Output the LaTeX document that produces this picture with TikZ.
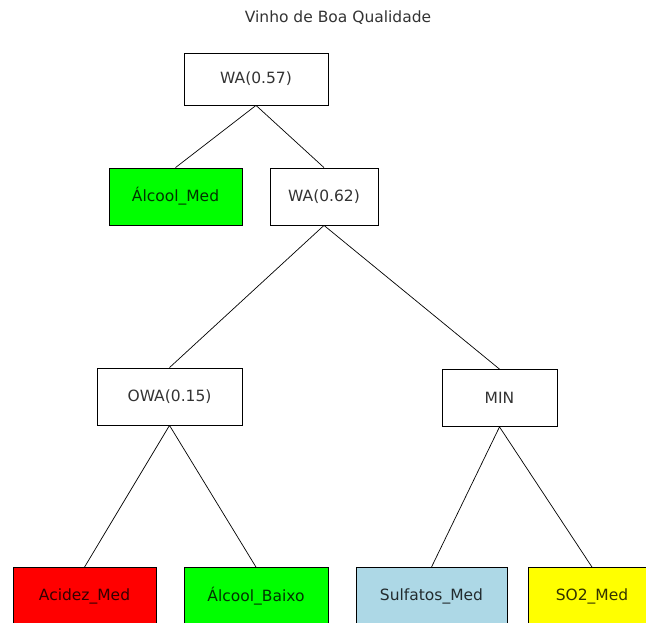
\documentclass[tikz,border=0pt]{standalone}
\usepackage{fontspec}
\setmainfont{DejaVu Sans}
\usepackage{xcolor}
\usepackage{tikz}
\definecolor{vivogreen}{HTML}{00FF00}
\definecolor{vivored}{HTML}{FF0000}
\definecolor{lightblue}{HTML}{ADD8E6}
\definecolor{vivoyellow}{HTML}{FFFF00}

\begin{document}
\begin{tikzpicture}[x=1pt, y=-1pt,
                    every node/.append style = {font=\fontsize{15.5}{18}\selectfont, text=black, text opacity=0.8},
                    box/.style = {draw, thick, fill=white, minimum height=57pt, inner sep=0pt},
                    link/.style = {draw, line width=0.7pt}]
                \useasboundingbox (0,0) rectangle (646,623);
                \clip (0,0) rectangle (646,623);
                \node (title) at (338,18) {Vinho de Boa Qualidade};
                % raiz
                \node[box, minimum width=144pt, minimum height=52pt] (wa1) at (256,79) {WA(0.57)};
                \node[box, minimum width=133pt, fill=vivogreen] (alcmed) at (175.5,196.5) {Álcool\_Med};
                \node[box, minimum width=108pt] (wa2) at (324,196.5) {WA(0.62)};
                % operadores
                \node[box, minimum width=145pt] (owa) at (169.5,396.5) {OWA(0.15)};
                \node[box, minimum width=115pt] (min) at (499.5,398) {MIN};
                % folhas
                \node[box, minimum width=143pt, fill=vivored] (acidez) at (84.5,596) {Acidez\_Med};
                \node[box, minimum width=144pt, fill=vivogreen] (alcbaixo) at (256,596) {Álcool\_Baixo};
                \node[box, minimum width=151pt, fill=lightblue] (sulf) at (431.5,596) {Sulfatos\_Med};
                \node[box, minimum width=128pt, fill=vivoyellow] (so2) at (592,596) {SO2\_Med};
                \path[link] (wa1.south) -- (alcmed.north)
                            (wa1.south) -- (wa2.north)
                            (wa2.south) -- (owa.north)
                            (wa2.south) -- (min.north)
                            (owa.south) -- (acidez.north)
                            (owa.south) -- (alcbaixo.north)
                            (min.south) -- (sulf.north)
                            (min.south) -- (so2.north);
                \end{tikzpicture}
\end{document}
